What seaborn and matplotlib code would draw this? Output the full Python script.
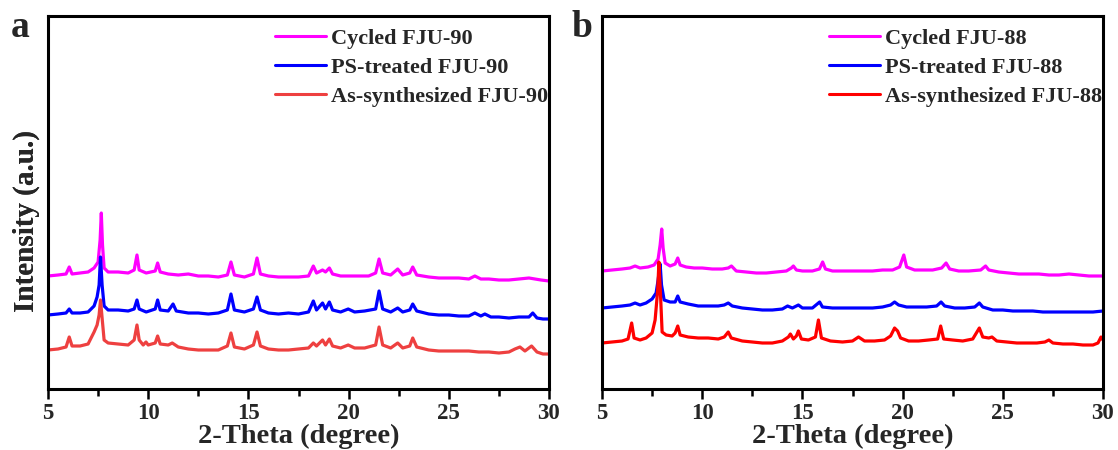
import matplotlib
matplotlib.use("Agg")
import matplotlib.pyplot as plt
from matplotlib.ticker import MultipleLocator
import pandas as pd
import seaborn as sns

# ---------------- PXRD traces: (2-theta in degree, intensity in a.u.) ----------------
# FJU-90
cycled_fju90 = [
    (5.0, 113), (5.5, 114), (5.9, 115), (6.06, 122), (6.2, 115), (6.6, 116), (7.0, 117),
    (7.3, 121), (7.5, 127), (7.6, 149), (7.66, 176), (7.72, 144), (7.8, 121), (8.0, 117),
    (8.5, 117), (9.0, 116), (9.3, 119), (9.44, 134), (9.55, 119), (9.9, 116), (10.35, 118),
    (10.47, 126), (10.6, 117), (11.0, 115), (11.5, 114), (12.0, 115), (12.5, 113), (13.0, 113),
    (13.5, 112), (13.95, 114), (14.13, 127), (14.3, 114), (14.8, 112), (15.25, 115),
    (15.43, 131), (15.6, 115), (16.0, 113), (16.5, 112), (17.0, 112), (17.5, 112), (18.0, 113),
    (18.24, 123), (18.4, 116), (18.7, 119), (18.85, 117), (19.04, 121), (19.2, 115), (19.6, 113),
    (20.0, 113), (20.5, 113), (21.0, 113), (21.35, 116), (21.52, 130), (21.7, 116), (22.1, 114),
    (22.45, 120), (22.7, 114), (23.05, 116), (23.2, 122), (23.4, 114), (24.0, 112), (24.5, 111),
    (25.0, 111), (25.5, 111), (26.0, 110), (26.3, 113), (26.6, 110), (27.0, 110), (27.5, 109),
    (28.0, 109), (28.5, 110), (29.0, 111), (29.3, 110), (29.6, 109), (30.0, 108),
]
ps_fju90 = [
    (5.0, 74), (5.5, 75), (5.9, 76), (6.06, 80), (6.2, 76), (6.6, 76), (7.0, 77), (7.3, 83),
    (7.45, 92), (7.55, 104), (7.62, 132), (7.7, 104), (7.8, 83), (8.0, 79), (8.5, 79), (9.0, 78),
    (9.3, 80), (9.44, 89), (9.55, 80), (9.9, 77), (10.35, 80), (10.47, 89), (10.6, 79), (11.0, 78),
    (11.24, 85), (11.4, 78), (12.0, 76), (12.5, 76), (13.0, 75), (13.5, 76), (13.95, 79),
    (14.13, 95), (14.3, 79), (14.8, 77), (15.25, 80), (15.43, 92), (15.6, 79), (16.0, 76),
    (16.5, 75), (17.0, 76), (17.5, 75), (18.0, 77), (18.24, 88), (18.4, 79), (18.7, 86),
    (18.85, 80), (19.04, 87), (19.2, 79), (19.6, 77), (19.98, 80), (20.3, 77), (20.8, 78),
    (21.35, 80), (21.52, 98), (21.7, 80), (22.1, 77), (22.45, 81), (22.7, 77), (23.05, 79),
    (23.2, 85), (23.4, 78), (24.0, 75), (24.5, 74), (25.0, 74), (25.5, 73), (26.0, 73),
    (26.3, 76), (26.6, 73), (26.8, 75), (27.1, 72), (27.5, 72), (28.0, 71), (28.5, 72),
    (29.0, 72), (29.19, 76), (29.4, 71), (29.7, 70), (30.0, 70),
]
as_fju90 = [
    (5.0, 39), (5.5, 40), (5.9, 42), (6.06, 52), (6.2, 43), (6.6, 43), (7.0, 45), (7.3, 57),
    (7.45, 64), (7.55, 74), (7.62, 89), (7.7, 71), (7.8, 49), (8.0, 46), (8.5, 45), (9.0, 44),
    (9.3, 49), (9.44, 64), (9.55, 49), (9.75, 44), (9.89, 47), (10.0, 44), (10.35, 46),
    (10.47, 53), (10.6, 45), (11.0, 44), (11.2, 46), (11.5, 42), (12.0, 40), (12.5, 39),
    (13.0, 39), (13.5, 39), (13.95, 43), (14.13, 56), (14.3, 42), (14.8, 40), (15.25, 44),
    (15.43, 57), (15.6, 43), (16.0, 40), (16.5, 39), (17.0, 39), (17.5, 40), (18.0, 41),
    (18.24, 46), (18.4, 43), (18.7, 49), (18.85, 44), (19.04, 50), (19.2, 43), (19.6, 41),
    (19.98, 44), (20.3, 41), (20.8, 41), (21.35, 44), (21.52, 62), (21.7, 44), (22.1, 41),
    (22.45, 46), (22.7, 41), (23.05, 43), (23.2, 51), (23.4, 42), (24.0, 39), (24.5, 38),
    (25.0, 38), (25.5, 38), (26.0, 38), (26.5, 37), (27.0, 37), (27.5, 36), (28.0, 37),
    (28.3, 40), (28.55, 42), (28.8, 38), (29.13, 43), (29.4, 37), (29.7, 35), (30.0, 35),
]

# FJU-88
cycled_fju88 = [
    (5.0, 118), (5.5, 119), (6.0, 120), (6.4, 121), (6.65, 123), (6.9, 121), (7.3, 122),
    (7.6, 124), (7.8, 130), (7.9, 144), (7.98, 160), (8.05, 141), (8.15, 126), (8.4, 123),
    (8.65, 125), (8.78, 131), (8.9, 124), (9.2, 122), (9.6, 121), (10.0, 121), (10.5, 120),
    (11.0, 120), (11.3, 121), (11.46, 123), (11.7, 118), (12.2, 117), (12.7, 116), (13.2, 116),
    (13.7, 117), (14.2, 118), (14.45, 121), (14.55, 123), (14.7, 119), (15.0, 118), (15.5, 118),
    (15.85, 120), (16.01, 127), (16.15, 120), (16.5, 118), (17.0, 118), (17.5, 118), (18.0, 118),
    (18.5, 118), (19.0, 119), (19.5, 119), (19.85, 122), (20.06, 134), (20.2, 122), (20.6, 119),
    (21.0, 119), (21.5, 119), (21.95, 121), (22.17, 126), (22.35, 120), (22.8, 118), (23.3, 118),
    (23.9, 119), (24.14, 123), (24.3, 119), (24.8, 117), (25.3, 116), (25.8, 115), (26.3, 115),
    (26.8, 115), (27.3, 114), (27.8, 114), (28.3, 115), (28.8, 114), (29.3, 113), (29.7, 113),
    (30.0, 113),
]
ps_fju88 = [
    (5.0, 81), (5.5, 82), (6.0, 83), (6.4, 84), (6.65, 86), (6.9, 84), (7.2, 86), (7.5, 90),
    (7.7, 96), (7.8, 109), (7.9, 125), (7.97, 104), (8.1, 89), (8.4, 87), (8.65, 87), (8.78, 93),
    (8.9, 87), (9.3, 85), (9.8, 83), (10.3, 83), (10.8, 83), (11.1, 84), (11.3, 86), (11.5, 83),
    (12.0, 81), (12.5, 80), (13.0, 79), (13.5, 79), (14.0, 80), (14.26, 83), (14.5, 81),
    (14.8, 84), (15.0, 81), (15.5, 81), (15.86, 87), (16.0, 82), (16.5, 81), (17.0, 81),
    (17.5, 81), (18.0, 81), (18.5, 81), (19.0, 82), (19.4, 84), (19.6, 87), (19.8, 84),
    (20.2, 82), (20.7, 82), (21.2, 82), (21.7, 83), (21.92, 87), (22.1, 83), (22.6, 81),
    (23.1, 81), (23.6, 82), (23.83, 86), (24.0, 82), (24.5, 79), (25.0, 79), (25.5, 78),
    (26.0, 78), (26.5, 78), (27.0, 77), (27.5, 77), (28.0, 77), (28.5, 77), (29.0, 77),
    (29.5, 77), (30.0, 78),
]
as_fju88 = [
    (5.0, 46), (5.5, 47), (6.0, 48), (6.3, 50), (6.48, 66), (6.6, 51), (6.9, 49), (7.2, 51),
    (7.5, 56), (7.65, 69), (7.78, 99), (7.84, 127), (7.92, 94), (8.0, 57), (8.2, 54), (8.5, 53),
    (8.65, 56), (8.78, 63), (8.9, 54), (9.3, 52), (9.8, 51), (10.3, 51), (10.8, 50), (11.1, 52),
    (11.3, 57), (11.45, 51), (12.0, 48), (12.5, 47), (13.0, 46), (13.5, 46), (14.0, 48),
    (14.3, 52), (14.4, 55), (14.55, 50), (14.7, 53), (14.8, 58), (14.95, 50), (15.3, 49),
    (15.65, 52), (15.8, 69), (15.95, 51), (16.4, 48), (17.0, 47), (17.5, 48), (17.8, 52),
    (18.1, 48), (18.6, 48), (19.1, 49), (19.4, 53), (19.6, 61), (19.75, 58), (19.9, 51),
    (20.3, 48), (20.8, 48), (21.3, 49), (21.75, 50), (21.9, 63), (22.05, 50), (22.5, 49),
    (23.0, 48), (23.5, 50), (23.83, 61), (24.0, 52), (24.3, 51), (24.46, 52), (24.7, 48),
    (25.2, 47), (25.7, 46), (26.2, 46), (26.7, 46), (27.1, 47), (27.3, 49), (27.5, 46),
    (28.0, 45), (28.5, 45), (29.0, 44), (29.5, 44), (29.75, 46), (29.9, 52), (30.0, 49),
]

x_ticks = [5, 10, 15, 20, 25, 30]

panels = [
    ("a", ["Cycled FJU-90", "PS-treated FJU-90", "As-synthesized FJU-90"],
     [cycled_fju90, ps_fju90, as_fju90], ["#ff00ff", "#0000ff", "#ee4040"]),
    ("b", ["Cycled FJU-88", "PS-treated FJU-88", "As-synthesized FJU-88"],
     [cycled_fju88, ps_fju88, as_fju88], ["#ff00ff", "#0000ff", "#ff0000"]),
]

sns.set_theme(style="white")
plt.rcParams["font.family"] = ["Liberation Serif", "DejaVu Serif"]
plt.rcParams["font.weight"] = "bold"
plt.rcParams["axes.labelweight"] = "bold"

W, H = 1118, 450
fig = plt.figure(figsize=(W / 100, H / 100), dpi=100)

axes_px = [(48, 16, 549, 389), (602, 16, 1103, 389)]
letter_px = [(11, 37), (571, 37)]

for (letter, names, traces, colors), (x0, y0, x1, y1), (lx, ly) in zip(panels, axes_px, letter_px):
    ax = fig.add_axes([x0 / W, 1 - y1 / H, (x1 - x0) / W, (y1 - y0) / H])
    frames = []
    for name, trace in zip(names, traces):
        d = pd.DataFrame(trace, columns=["two_theta", "intensity"])
        d["sample"] = name
        frames.append(d)
    df = pd.concat(frames, ignore_index=True)

    sns.lineplot(data=df, x="two_theta", y="intensity", hue="sample",
                 hue_order=names, palette=dict(zip(names, colors)),
                 estimator=None, sort=False, linewidth=2.3, ax=ax)

    ax.set_xlim(5, 30)
    ax.set_ylim(0, 373)
    ax.set_xticks(x_ticks)
    ax.xaxis.set_minor_locator(MultipleLocator(2.5))
    ax.set_yticks([])
    ax.tick_params(axis="x", which="major", direction="out", length=7, width=1.8,
                   labelsize=16.5, pad=3, bottom=True, top=False, color="black")
    ax.tick_params(axis="x", which="minor", direction="out", length=5, width=1.8,
                   bottom=True, top=False, color="black")
    for lab in ax.get_xticklabels():
        lab.set_fontweight("bold")
    for sp in ax.spines.values():
        sp.set_linewidth(2.2)
        sp.set_color("black")

    ax.set_xlabel("2-Theta (degree)", fontsize=20.5, fontweight="bold", labelpad=0)
    ax.set_ylabel("Intensity (a.u.)", fontsize=21, fontweight="bold")
    ax.yaxis.label.set_verticalalignment("center")
    ax.yaxis.set_label_coords((26 - x0) / (x1 - x0), (y1 - 221) / (y1 - y0))

    leg = ax.legend(loc="upper right", bbox_to_anchor=(0.998, 0.967), frameon=False,
                    handlelength=2.3, handletextpad=0.22, labelspacing=0.38,
                    borderaxespad=0.0, borderpad=0.0,
                    prop={"family": "Liberation Serif", "weight": "bold", "size": 16})
    for line in leg.get_lines():
        line.set_linewidth(2.2)

    fig.text(lx / W, 1 - ly / H, letter, fontsize=27, fontweight="bold",
             ha="left", va="baseline")

fig.savefig("out.png", dpi=100, facecolor="white")
